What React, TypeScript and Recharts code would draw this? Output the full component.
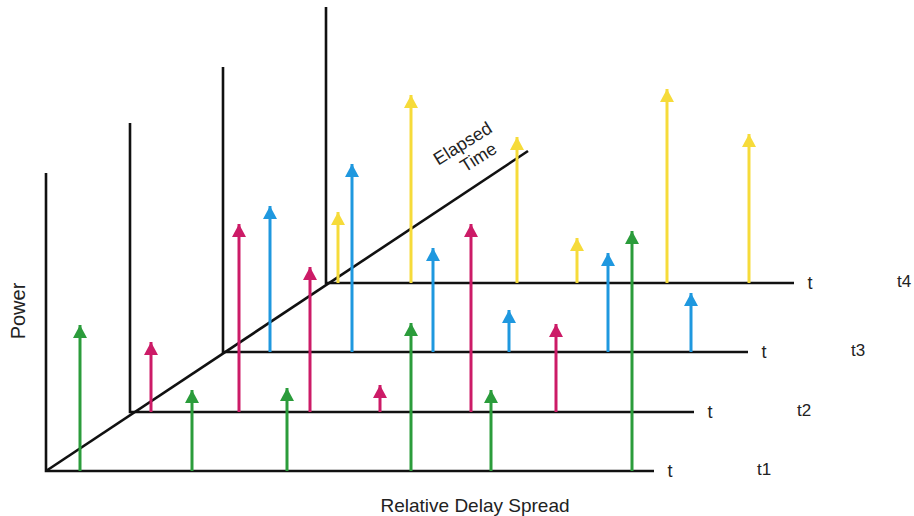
import React from 'react';
import { ComposedChart, Line, XAxis, YAxis } from 'recharts';

// ---- data ----
const SLICE_LABELS = ['t1', 't2', 't3', 't4'];
const SLICE_COLORS = ['#2b9c3b', '#cc1b67', '#1f98df', '#f6db3a'];
// oblique projection of the elapsed-time axis (origin shift of each slice)
const SLICE_SHIFT_X = [0, 84, 177, 280];
const SLICE_SHIFT_Y = [0, 59, 119, 188];
const AXIS_LENGTH = [608, 564, 525, 468];
const AXIS_HEIGHT = [298, 289, 285, 276];
const ELAPSED_END = { x: 482, y: 320 };

const DELAY_T1 = [34, 146, 241, 365, 445, 586];
const POWER_T1 = [146, 81, 83, 148, 81, 240];
const DELAY_T2 = [21, 109, 180, 250, 341, 426];
const POWER_T2 = [70, 188, 145, 27, 188, 88];
const DELAY_T3 = [47, 129, 210, 286, 385, 468];
const POWER_T3 = [146, 188, 104, 42, 99, 59];
const DELAY_T4 = [12, 85, 191, 251, 341, 423];
const POWER_T4 = [71, 188, 146, 45, 194, 149];

const DELAYS = [DELAY_T1, DELAY_T2, DELAY_T3, DELAY_T4];
const POWERS = [POWER_T1, POWER_T2, POWER_T3, POWER_T4];

const W = 914;
const H = 516;
const ORIGIN = { x: 46, y: 45 };
const FONT = '"Liberation Sans", Arial, sans-serif';

const px = (k: number, d: number) => ORIGIN.x + SLICE_SHIFT_X[k] + d;
const py = (k: number, p: number) => ORIGIN.y + SLICE_SHIFT_Y[k] + p;

const makeTip = (color: string) => (props: any) => {
  const { cx, cy, index } = props;
  if (index !== 1 || cx == null || cy == null) return <g key={`d-${index}`} />;
  return (
    <path
      key={`d-${index}`}
      d={`M${cx},${cy} L${cx + 7},${cy + 13} L${cx - 7},${cy + 13} Z`}
      fill={color}
      stroke="none"
    />
  );
};

export default function App() {
  const order = [3, 2, 1, 0];
  return (
    <div style={{ position: 'absolute', left: 0, top: 0, width: W, height: H, background: '#fff' }}>
      <ComposedChart width={W} height={H} margin={{ top: 0, right: 0, bottom: 0, left: 0 }}>
        <XAxis type="number" dataKey="x" domain={[0, W]} hide allowDataOverflow />
        <YAxis type="number" dataKey="y" domain={[0, H]} hide allowDataOverflow />
        {order.map((k) => (
          <Line
            key={`axis-${k}`}
            data={[
              { x: px(k, 0), y: py(k, AXIS_HEIGHT[k]) },
              { x: px(k, 0), y: py(k, 0) },
              { x: px(k, AXIS_LENGTH[k]), y: py(k, 0) },
            ]}
            dataKey="y"
            type="linear"
            stroke="#111"
            strokeWidth={2.6}
            dot={false}
            activeDot={false}
            isAnimationActive={false}
          />
        ))}
        <Line
          data={[
            { x: ORIGIN.x, y: ORIGIN.y },
            { x: ORIGIN.x + ELAPSED_END.x, y: ORIGIN.y + ELAPSED_END.y },
          ]}
          dataKey="y"
          type="linear"
          stroke="#111"
          strokeWidth={2.6}
          dot={false}
          activeDot={false}
          isAnimationActive={false}
        />
        {order.map((k) =>
          DELAYS[k].map((d, i) => (
            <Line
              key={`arrow-${k}-${i}`}
              data={[
                { x: px(k, d), y: py(k, 0) },
                { x: px(k, d), y: py(k, POWERS[k][i]) },
              ]}
              dataKey="y"
              type="linear"
              stroke={SLICE_COLORS[k]}
              strokeWidth={3}
              dot={makeTip(SLICE_COLORS[k])}
              activeDot={false}
              isAnimationActive={false}
            />
          ))
        )}
        {SLICE_LABELS.map((lab, k) => (
          <g key={`lab-${k}`} fontFamily={FONT} fill="#222">
            <text
              x={px(k, AXIS_LENGTH[k]) + 16}
              y={H - py(k, 0)}
              fontSize={18}
              textAnchor="middle"
              dominantBaseline="central"
            >
              t
            </text>
            <text
              x={px(k, AXIS_LENGTH[k]) + 110}
              y={H - py(k, 0) - 2}
              fontSize={17}
              textAnchor="middle"
              dominantBaseline="central"
            >
              {lab}
            </text>
          </g>
        ))}
        <text
          x={18}
          y={311}
          fontFamily={FONT}
          fontSize={20}
          fill="#222"
          textAnchor="middle"
          dominantBaseline="central"
          transform="rotate(-90 18 311)"
        >
          Power
        </text>
        <text
          x={475}
          y={505}
          fontFamily={FONT}
          fontSize={19}
          fill="#222"
          textAnchor="middle"
          dominantBaseline="central"
        >
          Relative Delay Spread
        </text>
        <g transform="translate(468 152) rotate(-32)" fontFamily={FONT} fontSize={18} fill="#222">
          <text x={0} y={-4} textAnchor="middle">Elapsed</text>
          <text x={6} y={16} textAnchor="middle">Time</text>
        </g>
      </ComposedChart>
    </div>
  );
}
